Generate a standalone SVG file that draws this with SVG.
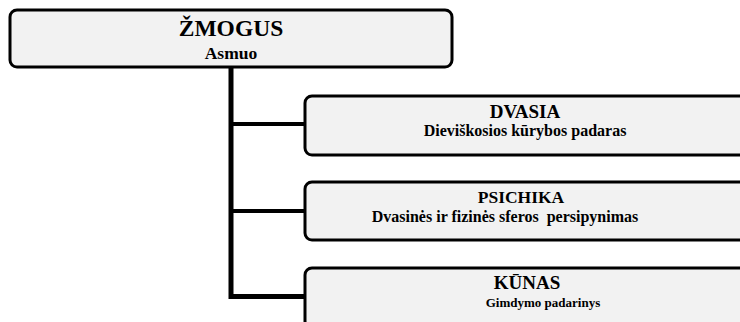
<svg xmlns="http://www.w3.org/2000/svg" width="740" height="322" viewBox="0 0 740 322">
<style>
.box{fill:#f2f2f2;stroke:#000;stroke-width:3}
.t{font-family:"Liberation Serif","Times New Roman",serif;font-weight:bold;fill:#000;text-anchor:middle}
.h1{font-size:23.5px}
.h2{font-size:19px}
.s1{font-size:17.5px}
.s2{font-size:16px}
.con{fill:none;stroke:#000;stroke-width:5}
.br{fill:none;stroke:#000;stroke-width:4}
</style>
<rect width="740" height="322" fill="#fff"/>
<g id="connectors">
<path class="con" d="M231 67 V296.5 H306"/>
<path class="br" d="M231 124 H306"/>
<path class="br" d="M231 211 H306"/>
</g>
<g id="zmogus">
<rect class="box" x="10" y="10" width="442" height="57" rx="7"/>
<text class="t h1" x="231" y="36">ŽMOGUS</text>
<text class="t s1" x="231" y="59">Asmuo</text>
</g>
<g id="dvasia">
<rect class="box" x="305" y="96" width="445" height="59" rx="7"/>
<text class="t h2" x="525" y="118">DVASIA</text>
<text class="t s2" x="525" y="136">Dieviškosios kūrybos padaras</text>
</g>
<g id="psichika">
<rect class="box" x="305" y="182" width="445" height="58" rx="7"/>
<text class="t h2" x="521" y="203" style="font-size:17.5px">PSICHIKA</text>
<text class="t s2" x="505" y="222" xml:space="preserve">Dvasinės ir fizinės sferos  persipynimas</text>
</g>
<g id="kunas">
<rect class="box" x="305" y="268" width="445" height="60" rx="7"/>
<text class="t h2" x="527" y="289">KŪNAS</text>
<text class="t" x="543" y="307" style="font-size:13px">Gimdymo padarinys</text>
</g>
</svg>
